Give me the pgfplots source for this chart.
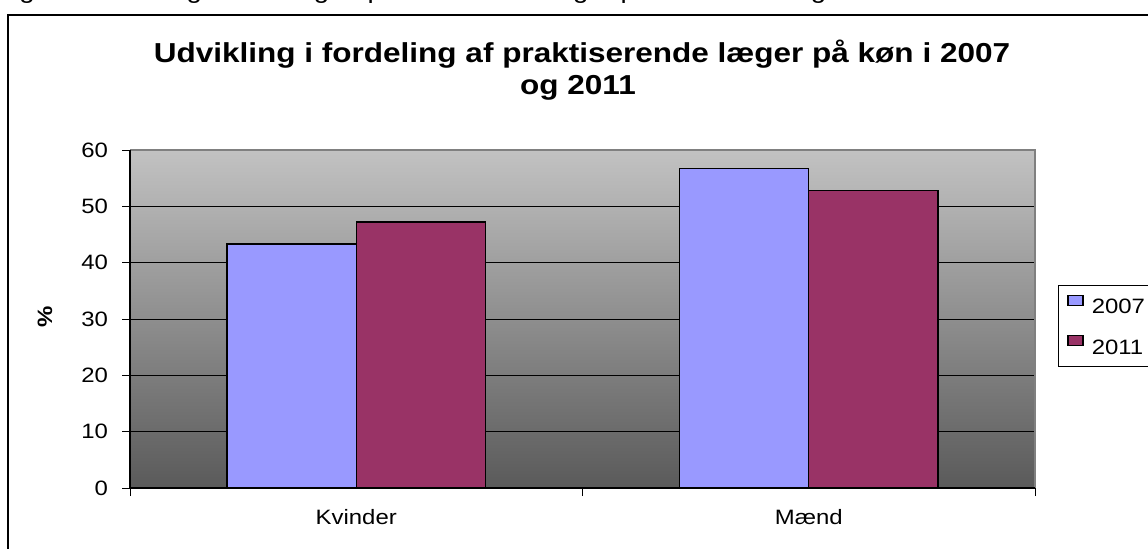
\documentclass[border=0pt]{standalone}
\usepackage{fontspec}
\setmainfont{Liberation Sans}[FakeStretch=1.15]
\usepackage{pgfplots}
\pgfplotsset{compat=1.18}
\definecolor{c2007}{RGB}{153,153,255}
\definecolor{c2011}{RGB}{153,51,102}
\definecolor{bgtop}{RGB}{194,194,194}
\definecolor{bgbot}{RGB}{90,90,90}
\begin{document}
\begin{tikzpicture}
\useasboundingbox (0,0) rectangle (574pt,274pt);
\clip (0,0) rectangle (574pt,274pt);
% chart frame, cut at right and bottom
\draw[line width=1pt] (4pt,-20pt) -- (4pt,266.5pt) -- (600pt,266.5pt);
% caption above, only lower part visible
\node[anchor=base west, inner sep=0pt, font=\fontsize{12}{14}\selectfont]
  at (-2pt,274.6pt) {Figur 7 Udvikling i fordeling af praktiserende læger på køn i 2007 og 2011};
% title
\node[anchor=base, inner sep=0pt, font=\fontsize{13.7}{16}\selectfont\bfseries]
  at (291pt,243pt) {Udvikling i fordeling af praktiserende læger på køn i 2007};
\node[anchor=base, inner sep=0pt, font=\fontsize{13.7}{16}\selectfont\bfseries]
  at (289pt,227pt) {og 2011};
\node[rotate=90, inner sep=0pt, font=\fontsize{10.4}{12}\selectfont\bfseries]
  at (22.5pt,115.5pt) {\%};
\begin{axis}[
    at={(65pt,30pt)}, anchor=south west,
    scale only axis, width=452.5pt, height=169pt,
    clip=false,
    xmin=-0.5, xmax=1.5, ymin=0, ymax=60,
    ytick={0,10,...,60},
    xtick={-0.5,0.5,1.5}, xticklabels={},
    extra x ticks={0,1}, extra x tick labels={Kvinder,Mænd},
    extra x tick style={major tick length=0pt},
    tick align=outside, xtick pos=bottom, ytick pos=left,
    major tick length=4pt,
    tick style={black, line width=0.5pt},
    ymajorgrids, grid style={black, line width=0.5pt},
    axis line style={draw=none},
    axis background/.style={shade, top color=bgtop, bottom color=bgbot},
    ticklabel style={font=\fontsize{10.4}{12}\selectfont},
    xticklabel style={anchor=base, yshift=-18pt},
    yticklabel style={anchor=east, xshift=-3.5pt},
    /pgf/number format/assume math mode=true,
    legend style={at={(axis description cs:1.0254,0.6006)}, anchor=north west,
      draw=black, line width=0.5pt, fill=white,
      font=\fontsize{10.4}{12}\selectfont,
      inner xsep=4.5pt, inner ysep=4.5pt, row sep=9.5pt, column sep=0pt,
      nodes={inner sep=0pt}},
    legend cell align=left,
]
\addplot[ybar, bar width=0.28571, bar shift=-0.142857, fill=c2007, draw=black, line width=0.7pt,
  legend image code/.code={\draw[fill=c2007, draw=black, line width=0.6pt] (0pt,1.2pt) rectangle (7.5pt,6.2pt); \path (11.5pt,0pt);}]
  coordinates {(0,43.3) (1,56.7)};
\addplot[ybar, bar width=0.28571, bar shift=0.142857, fill=c2011, draw=black, line width=0.7pt,
  legend image code/.code={\draw[fill=c2011, draw=black, line width=0.6pt] (0pt,1.2pt) rectangle (7.5pt,6.2pt); \path (11.5pt,0pt);}]
  coordinates {(0,47.2) (1,52.8)};
\legend{2007,2011}
\draw[gray, line width=0.6pt] (rel axis cs:0,1) -- (rel axis cs:1,1) -- (rel axis cs:1,0);
\draw[black, line width=0.6pt] (rel axis cs:0,1) -- (rel axis cs:0,0) -- (rel axis cs:1,0);
\end{axis}
\end{tikzpicture}
\end{document}
